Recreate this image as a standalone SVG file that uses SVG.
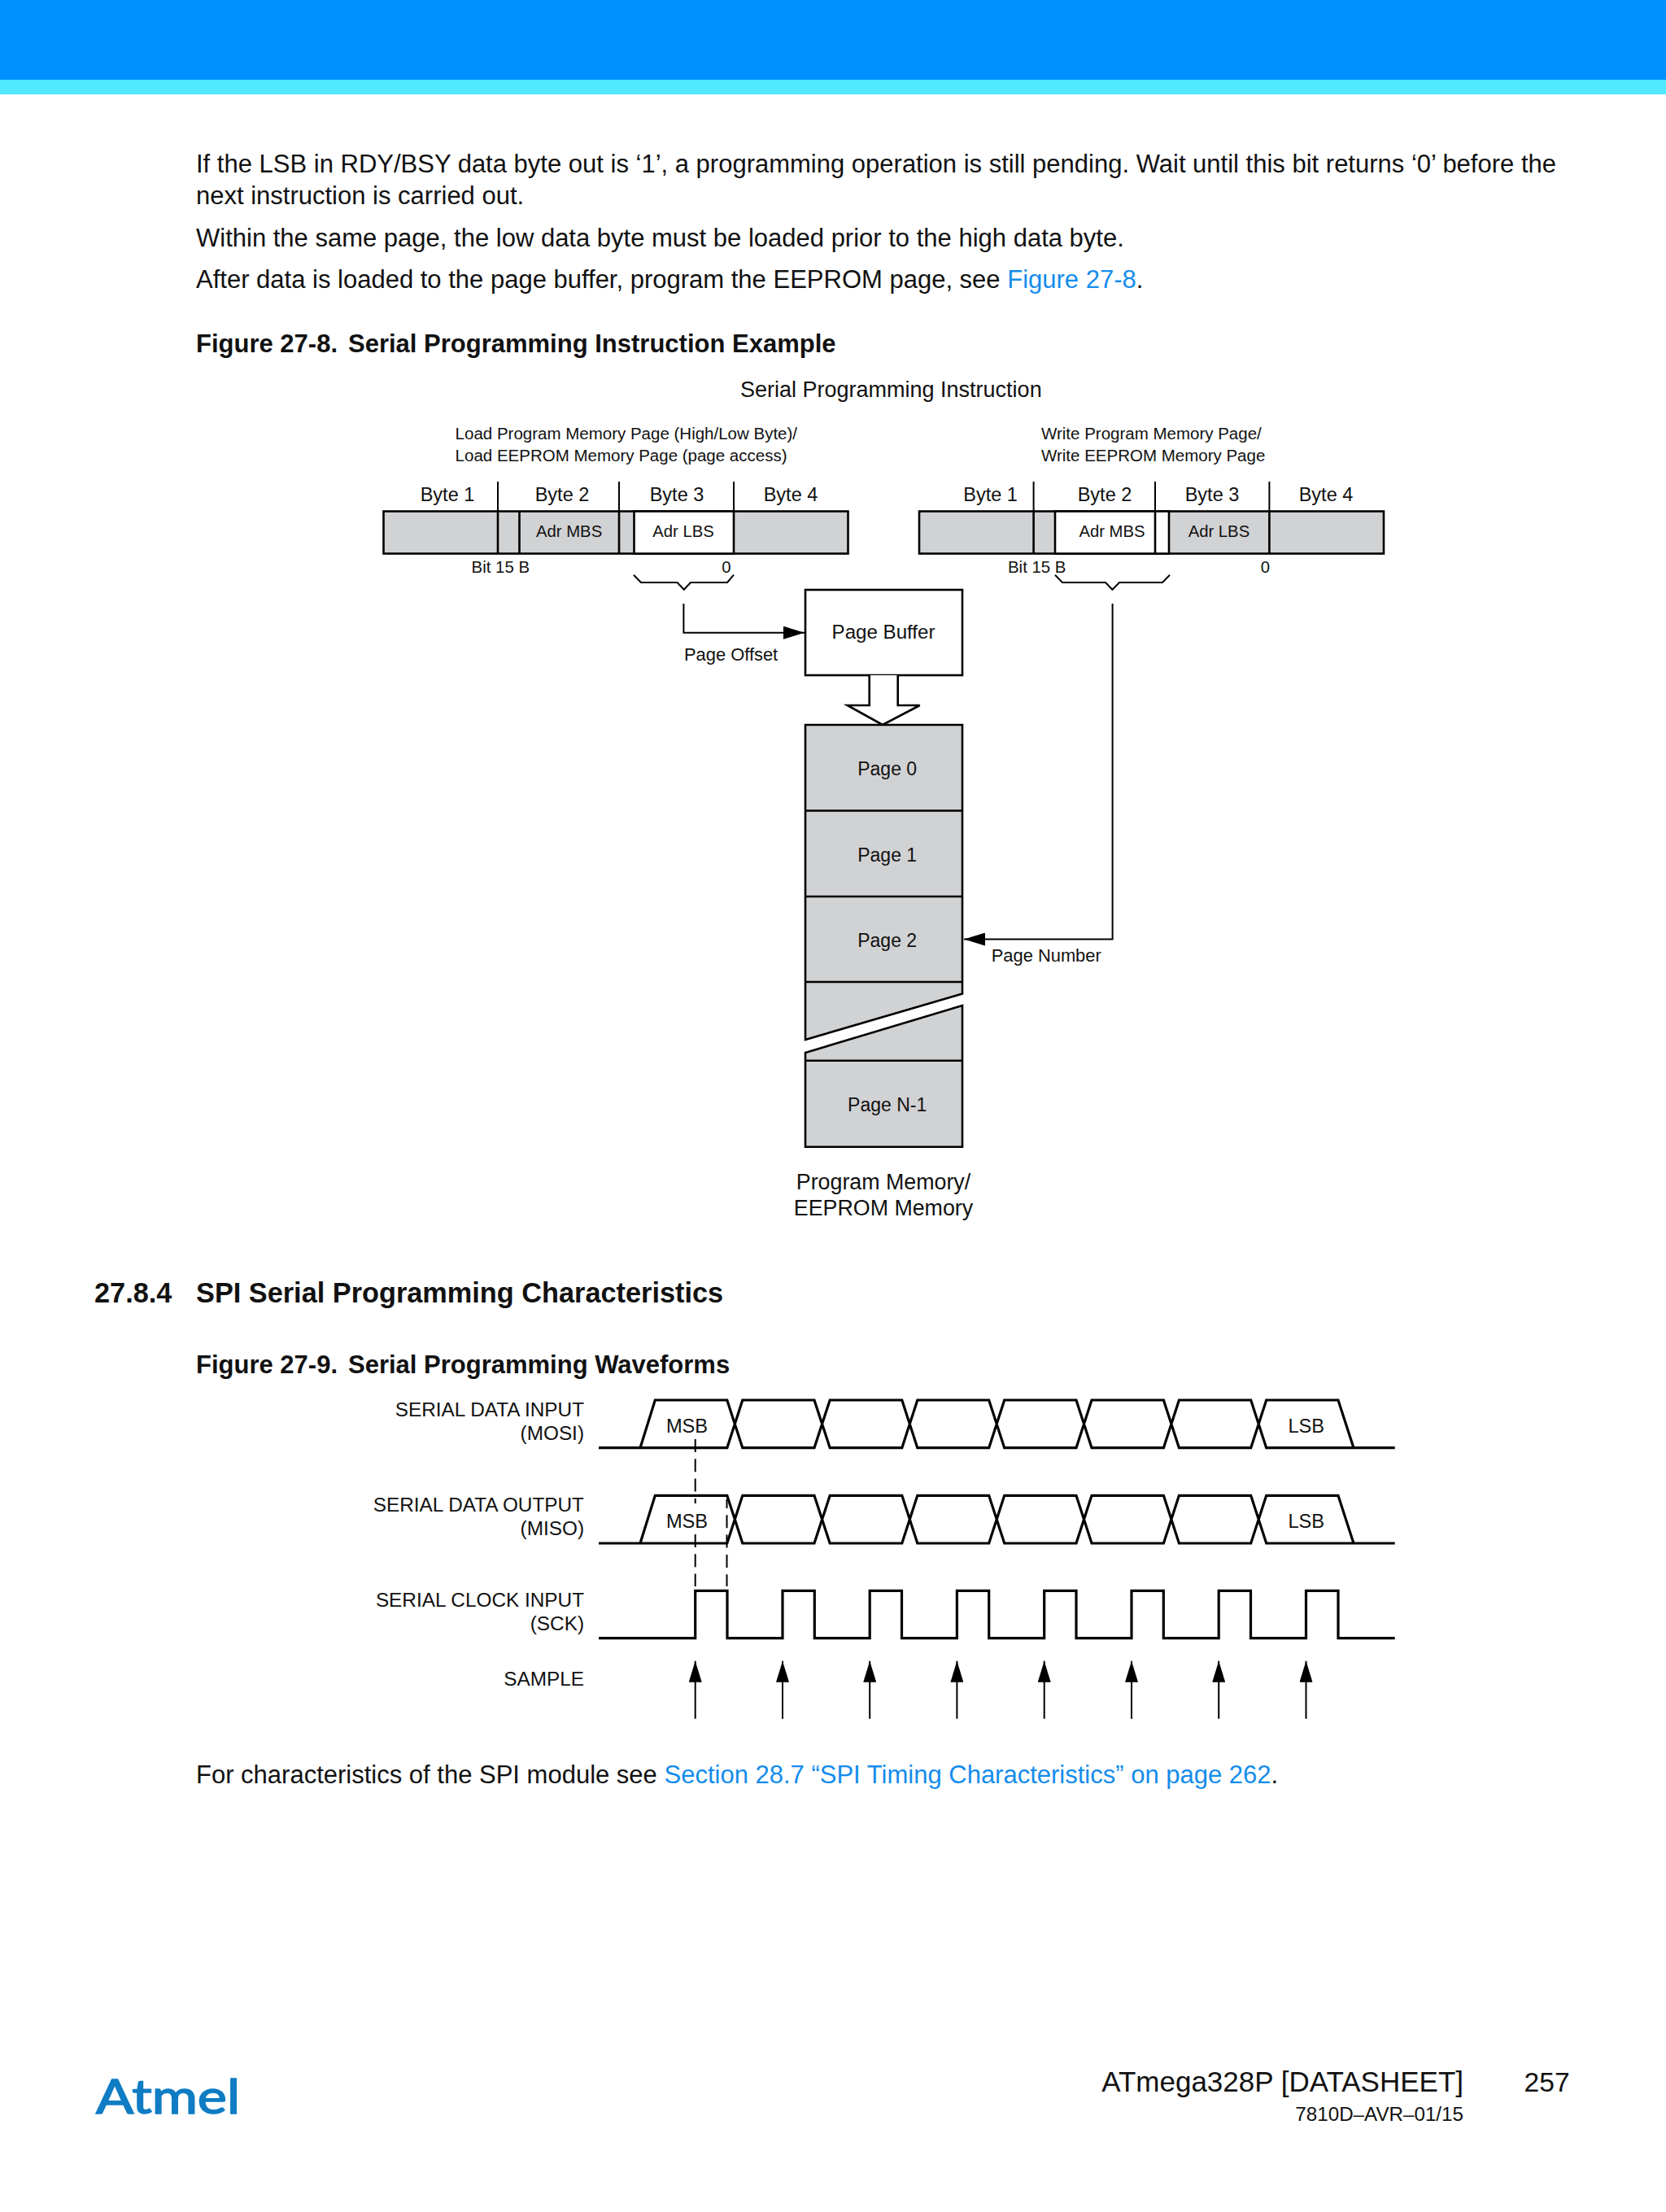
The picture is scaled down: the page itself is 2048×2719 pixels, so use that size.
<svg xmlns="http://www.w3.org/2000/svg" width="2048" height="2719" viewBox="0 0 2048 2719">
<style>
text{font-family:"Liberation Sans",Arial,sans-serif;fill:#111}
.body{font-size:31px}
.link{fill:#148cec}
.bold{font-weight:700;font-size:31px}
.h2{font-weight:700;font-size:34.3px}
.hd{font-size:20.5px}
.byte{font-size:23.5px;text-anchor:middle}
.adr{font-size:20.3px;text-anchor:middle}
.bit{font-size:20.4px}
.page{font-size:23px;text-anchor:middle}
.lab{font-size:21.9px}
.mem{font-size:26.8px;text-anchor:middle}
.wl{font-size:24.35px;text-anchor:end}
.ms{font-size:23.6px;text-anchor:middle}
.g{fill:#d1d2d4;stroke:#000;stroke-width:2.6}
.w{fill:#fff;stroke:#000;stroke-width:2.6}
.l{fill:none;stroke:#000;stroke-width:2}
.t{fill:none;stroke:#000;stroke-width:2.6}
.wv{fill:none;stroke:#000;stroke-width:3.2}
.d{fill:none;stroke:#000;stroke-width:2;stroke-dasharray:16 8.3}
</style>
<defs>
<marker id="ah" markerUnits="userSpaceOnUse" markerWidth="26" markerHeight="16" refX="26" refY="8" orient="auto"><path d="M0 0L26 8L0 16Z" fill="#000"/></marker>
</defs>
<rect width="2048" height="2719" fill="#fff"/>
<rect id="band-top" width="2048" height="98" fill="#0091ff"/>
<rect id="band-low" y="98" width="2048" height="18" fill="#50e9ff"/>

<g id="text-top">
<text class="body" x="241" y="212">If the LSB in RDY/BSY data byte out is ‘1’, a programming operation is still pending. Wait until this bit returns ‘0’ before the</text>
<text class="body" x="241" y="250.5">next instruction is carried out.</text>
<text class="body" x="241" y="302.5">Within the same page, the low data byte must be loaded prior to the high data byte.</text>
<text class="body" x="241" y="354">After data is loaded to the page buffer, program the EEPROM page, see <tspan class="link">Figure 27-8</tspan>.</text>
<text class="bold" x="241" y="433">Figure 27-8.</text><text class="bold" x="428" y="433">Serial Programming Instruction Example</text>
</g>

<g id="fig8-title"><text x="910" y="487.5" font-size="27">Serial Programming Instruction</text></g>
<g id="hdr-left"><text class="hd" x="559.6" y="540">Load Program Memory Page (High/Low Byte)/</text><text class="hd" x="559.6" y="566.7">Load EEPROM Memory Page (page access)</text></g>
<g id="hdr-right"><text class="hd" x="1280" y="540">Write Program Memory Page/</text><text class="hd" x="1280" y="566.7">Write EEPROM Memory Page</text></g>

<g id="instr-left">
<rect class="g" x="471.5" y="628.5" width="571" height="52"/>
<rect x="779.5" y="628.5" width="122.5" height="52" class="w"/>
<path class="l" d="M612 592V628M761 592V628M902 592V628"/>
<path class="t" d="M612 628V680M638.5 628V680M761 628V680"/>
<text class="byte" x="550" y="616">Byte 1</text><text class="byte" x="691" y="616">Byte 2</text><text class="byte" x="832" y="616">Byte 3</text><text class="byte" x="972" y="616">Byte 4</text>
<text class="adr" x="699.6" y="660">Adr MBS</text><text class="adr" x="840" y="660">Adr LBS</text>
<text class="bit" x="579.6" y="704">Bit 15 B</text><text class="adr" x="893" y="704">0</text>
<path class="l" d="M779 706.7L788 716H832.6L840.8 724.7L849 716H894L902 706.7"/>
</g>
<g id="instr-right">
<rect class="g" x="1130" y="628.5" width="571" height="52"/>
<rect x="1297" y="628.5" width="140" height="52" class="w"/>
<path class="l" d="M1270.6 592V628M1420 592V628M1560.4 592V628"/>
<path class="t" d="M1270.6 628V680M1420 628V680M1560.4 628V680"/>
<text class="byte" x="1217.6" y="616">Byte 1</text><text class="byte" x="1358" y="616">Byte 2</text><text class="byte" x="1490" y="616">Byte 3</text><text class="byte" x="1630" y="616">Byte 4</text>
<text class="adr" x="1367" y="660">Adr MBS</text><text class="adr" x="1498.4" y="660">Adr LBS</text>
<text class="bit" x="1239" y="704">Bit 15 B</text><text class="adr" x="1555.5" y="704">0</text>
<path class="l" d="M1297 706.7L1306 716H1359L1367.4 724.7L1376 716H1429L1438 706.7"/>
</g>

<g id="page-buffer">
<rect class="w" x="990" y="725" width="193" height="105"/>
<text x="1086" y="785" font-size="24.1" text-anchor="middle">Page Buffer</text>
</g>
<g id="memory">
<path class="w" d="M1068.7 830V867H1041.7L1085 891L1130.7 867H1103.7V830"/>
<path class="g" d="M990 891H1183V1221.5L990 1278Z"/>
<path class="g" d="M990 1294L1183 1236V1409.7H990Z"/>
<path class="t" d="M990 996.5H1183M990 1102H1183M990 1207H1183M990 1303.7H1183"/>
<text class="page" x="1090.7" y="953">Page 0</text>
<text class="page" x="1090.7" y="1058.5">Page 1</text>
<text class="page" x="1090.7" y="1163.6">Page 2</text>
<text class="page" x="1090.7" y="1365.6">Page N-1</text>
<text class="mem" x="1086" y="1462">Program Memory/</text>
<text class="mem" x="1086" y="1494">EEPROM Memory</text>
</g>

<g id="connectors">
<path class="l" marker-end="url(#ah)" d="M840.4 742V777.7H989"/>
<path class="l" marker-end="url(#ah)" d="M1367.6 742V1154.5H1185"/>
</g>
<g id="conn-labels">
<text class="lab" x="841" y="812">Page Offset</text>
<text class="lab" x="1218.7" y="1181.5">Page Number</text>
</g>

<g id="section"><text class="h2" x="116" y="1600.7">27.8.4</text><text class="h2" x="241" y="1600.7">SPI Serial Programming Characteristics</text></g>
<g id="fig9-title"><text class="bold" x="241" y="1687.5">Figure 27-9.</text><text class="bold" x="428" y="1687.5">Serial Programming Waveforms</text></g>

<g id="wave-labels">
<text class="wl" x="718" y="1740.5">SERIAL DATA INPUT</text><text class="wl" x="718" y="1769.5">(MOSI)</text>
<text class="wl" x="718" y="1857.5">SERIAL DATA OUTPUT</text><text class="wl" x="718" y="1887">(MISO)</text>
<text class="wl" x="718" y="1974.5">SERIAL CLOCK INPUT</text><text class="wl" x="718" y="2004">(SCK)</text>
<text class="wl" x="718" y="2072">SAMPLE</text>
</g>

<g id="mosi">
<path class="wv" d="M736 1779.7H787L805.3 1721H893.8L912.8 1779.7H1001L1020.2 1721H1108.8L1127.8 1779.7H1215.7L1234.7 1721H1323L1342 1779.7H1430.4L1449.4 1721H1537.7L1556.7 1779.7H1664H1714.7M787 1779.7H893.8L912.8 1721H1001L1020.2 1779.7H1108.8L1127.8 1721H1215.7L1234.7 1779.7H1323L1342 1721H1430.4L1449.4 1779.7H1537.7L1556.7 1721H1645L1664 1779.7"/>
<text class="ms" x="844.5" y="1760.7">MSB</text><text class="ms" x="1605.7" y="1760.7">LSB</text>
</g>
<g id="miso">
<path class="wv" transform="translate(0 117.3)" d="M736 1779.7H787L805.3 1721H893.8L912.8 1779.7H1001L1020.2 1721H1108.8L1127.8 1779.7H1215.7L1234.7 1721H1323L1342 1779.7H1430.4L1449.4 1721H1537.7L1556.7 1779.7H1664H1714.7M787 1779.7H893.8L912.8 1721H1001L1020.2 1779.7H1108.8L1127.8 1721H1215.7L1234.7 1779.7H1323L1342 1721H1430.4L1449.4 1779.7H1537.7L1556.7 1721H1645L1664 1779.7"/>
<text class="ms" x="844.5" y="1877.7">MSB</text><text class="ms" x="1605.7" y="1877.7">LSB</text>
</g>
<g id="sck">
<path class="wv" d="M736 2013.7H854.7V1955.3H894V2013.7H962V1955.3H1001.3V2013.7H1069.2V1955.3H1108.5V2013.7H1176.4V1955.3H1215.7V2013.7H1283.7V1955.3H1323V2013.7H1391V1955.3H1430.3V2013.7H1498.2V1955.3H1537.5V2013.7H1605.5V1955.3H1645V2013.7H1714.7"/>
</g>
<g id="dashes">
<path class="d" d="M854.7 1769V1848"/>
<path class="d" d="M854.7 1886V1950"/>
<path class="d" d="M893.5 1843V1950" stroke-dashoffset="5"/>
</g>
<g id="sample">
<path class="l" marker-end="url(#ah)" d="M854.7 2112.7V2041.7"/>
<path class="l" marker-end="url(#ah)" d="M962 2112.7V2041.7"/>
<path class="l" marker-end="url(#ah)" d="M1069.2 2112.7V2041.7"/>
<path class="l" marker-end="url(#ah)" d="M1176.4 2112.7V2041.7"/>
<path class="l" marker-end="url(#ah)" d="M1283.7 2112.7V2041.7"/>
<path class="l" marker-end="url(#ah)" d="M1391 2112.7V2041.7"/>
<path class="l" marker-end="url(#ah)" d="M1498.2 2112.7V2041.7"/>
<path class="l" marker-end="url(#ah)" d="M1605.5 2112.7V2041.7"/>
</g>

<g id="text-bottom"><text class="body" x="241" y="2192">For characteristics of the SPI module see <tspan class="link">Section 28.7 “SPI Timing Characteristics” on page 262</tspan>.</text></g>

<g id="footer">
<text x="118" y="2598" font-size="58" textLength="177" lengthAdjust="spacingAndGlyphs" stroke="#0f7cc4" stroke-width="1.6" style="font-family:Lato,'Liberation Sans',sans-serif;fill:#0f7cc4">Atmel</text>
<text x="1799" y="2571" font-size="35" text-anchor="end">ATmega328P [DATASHEET]</text>
<text x="1873.6" y="2571" font-size="33.6">257</text>
<text x="1799" y="2606.7" font-size="24.2" text-anchor="end">7810D–AVR–01/15</text>
</g>
</svg>
